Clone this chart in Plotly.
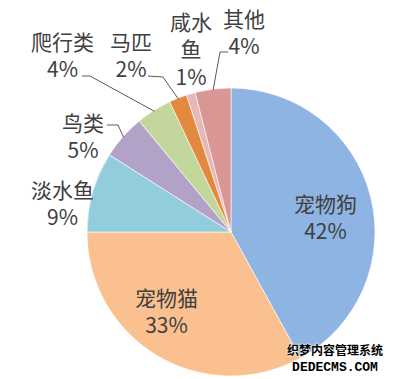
import math
import plotly.graph_objects as go

# ---- data ----
labels = ['宠物狗', '宠物猫', '淡水鱼', '鸟类', '爬行类', '马匹', '咸水鱼', '其他']
values = [42, 33, 9, 5, 4, 2, 1, 4]
colors = ['#8EB4E3', '#FAC090', '#93CDDD', '#B3A2C7', '#C3D69B', '#E2893F', '#E6B9B8', '#D99694']

# ---- layout / styling ----
W, H = 395, 379
CX, CY, R = 231, 232, 144          # pie centre and radius in pixels
FONT = 'Noto Sans CJK SC, Noto Sans, sans-serif'
TXT = '#404040'
FS = 21

# how a category name wraps
wrap = {'咸水鱼': ['咸水', '鱼']}
# label block centre (x, y) in pixels
label_pos = {
    '宠物狗': (325, 216),
    '宠物猫': (166, 310),
    '淡水鱼': (62, 202),
    '鸟类': (83, 135),
    '爬行类': (62, 55),
    '马匹': (131, 55),
    '咸水鱼': (191, 49),
    '其他': (244, 32),
}
# leader lines: start next to label, elbow (pixels); end is on the slice edge
leaders = {
    '鸟类': [(107, 125), (118, 125)],
    '爬行类': [(82, 76), (90, 76)],
    '马匹': [(148, 76), (163, 77)],
    '其他': [(228, 52), (220, 52)],
}

def px(x):
    return x / W

def py(y):
    return 1 - y / H

fig = go.Figure(go.Pie(
    labels=labels, values=values,
    marker=dict(colors=colors, line=dict(color='white', width=0.6)),
    sort=False, direction='clockwise', rotation=0,
    textinfo='none', hoverinfo='label+percent',
    domain=dict(x=[px(CX - R), px(CX + R)], y=[py(CY + R), py(CY - R)]),
    showlegend=False,
))

total = sum(values)
annotations = []
shapes = []
cum = 0
for lab, v in zip(labels, values):
    mid = (cum + v / 2) / total * 2 * math.pi
    cum += v
    lines = wrap.get(lab, [lab]) + [f'{round(v / total * 100)}%']
    x0, y0 = label_pos[lab]
    annotations.append(dict(
        x=px(x0), y=py(y0), xref='paper', yref='paper',
        text='<br>'.join(lines), showarrow=False, xanchor='center', yanchor='middle',
        align='center', font=dict(family=FONT, size=FS, color=TXT),
    ))
    if lab in leaders:
        ex = CX + (R - 1) * math.sin(mid)
        ey = CY - (R - 1) * math.cos(mid)
        pts = leaders[lab] + [(ex, ey)]
        path = 'M ' + ' L '.join(f'{px(a):.5f},{py(b):.5f}' for a, b in pts)
        shapes.append(dict(type='path', path=path, xref='paper', yref='paper',
                           line=dict(color='#595959', width=1)))

# watermark (single text block)
annotations.append(dict(
    x=px(335), y=py(358), xref='paper', yref='paper',
    text='织梦内容管理系统<br><span style="font-family:Liberation Mono;font-size:13px">DEDECMS.COM</span>',
    showarrow=False, xanchor='center', yanchor='middle',
    font=dict(family='Noto Sans CJK SC', size=12, color='black', weight='bold',
              shadow='0 0 2px white, 0 0 2px white'),
))

fig.update_layout(
    width=W, height=H, margin=dict(l=0, r=0, t=0, b=0),
    paper_bgcolor='white', plot_bgcolor='white',
    annotations=annotations, shapes=shapes,
)
fig.write_html('out.html')
